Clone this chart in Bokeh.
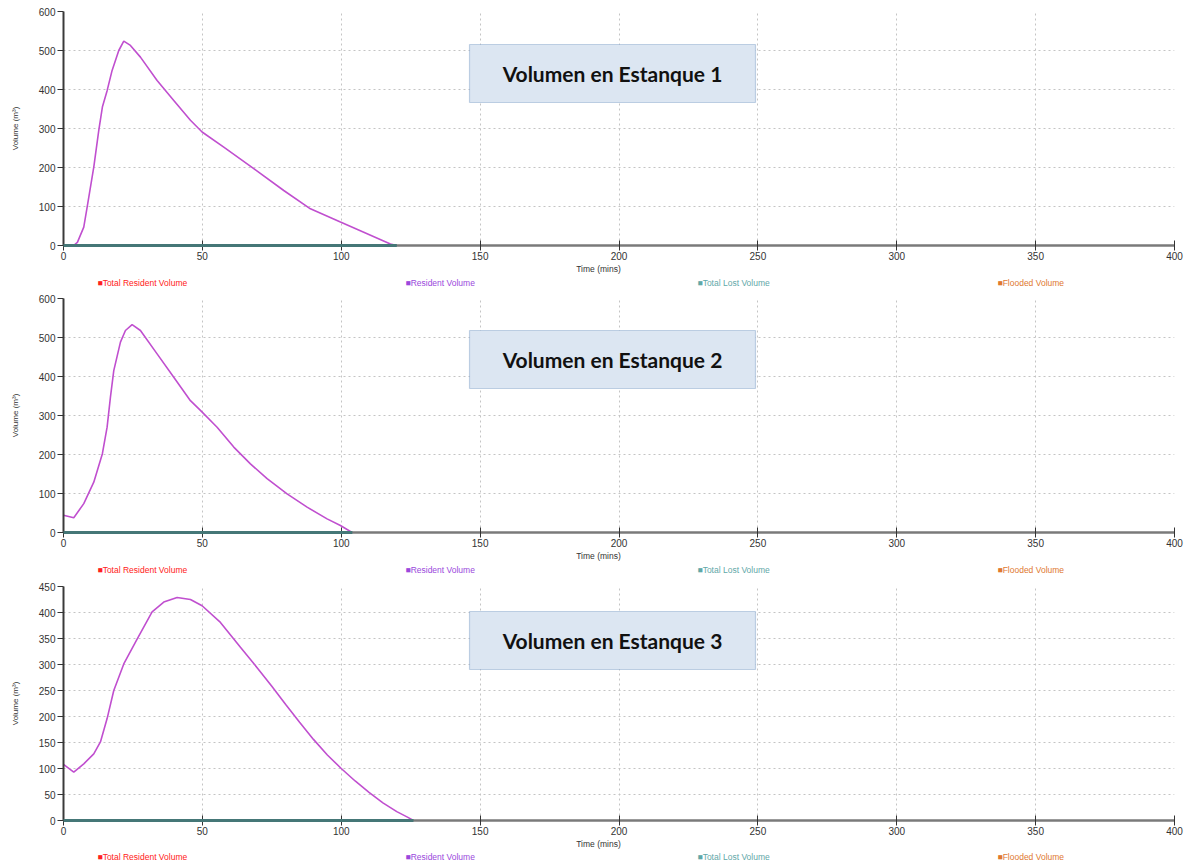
from bokeh.plotting import figure
from bokeh.models import Range1d, FixedTicker, Label, BoxAnnotation
from bokeh.layouts import column
from bokeh.embed import file_html
from bokeh.resources import INLINE

# ---------------- data ----------------
time1 = [3.6, 5, 7.3, 8.5, 10.9, 12.7, 14, 15.7, 17.5, 19.9, 21.7, 24.1, 27.7, 33.7,
         39.7, 45.7, 49.9, 57.7, 68.5, 79.3, 88.9, 99.7, 108.1, 117.7, 120]
vol1 = [0, 8, 47, 98, 201, 295, 355, 397, 449, 500, 524, 513, 483, 423,
        372, 321, 291, 252, 197, 141, 94, 60, 34, 4, 0]

time2 = [0, 3.7, 7.3, 10.9, 14, 15.7, 16.9, 18.1, 20.5, 22.3, 24.7, 27.7, 33.7, 39.7,
         45.7, 49.3, 55.3, 61.3, 67.3, 73.3, 80.5, 87.7, 94.9, 99.7, 103.9]
vol2 = [44, 38, 74, 129, 202, 270, 347, 415, 488, 518, 533, 518, 458, 398,
        338, 313, 270, 219, 176, 138, 99, 65, 35, 18, 0]

time3 = [0, 3.7, 7.3, 10.9, 13.3, 15.7, 18.1, 21.7, 26.5, 31.9, 36.1, 40.9, 45.7, 49.9,
         56.5, 63.7, 70, 75, 80, 85, 90, 95, 100, 105, 110, 115, 120, 124, 126]
vol3 = [108, 93, 109, 128, 151, 196, 250, 301, 349, 401, 420, 429, 425, 413,
        381, 333, 292, 258, 223, 189, 156, 126, 100, 76, 54, 34, 17, 6, 0]

# zero-valued series (Total Lost / Flooded / Total Resident) over the run length
zero_time1 = [0, 120]
zero_time2 = [0, 104]
zero_time3 = [0, 126]
zero_vol = [0, 0]

x_ticks = [0, 50, 100, 150, 200, 250, 300, 350, 400]
y_ticks_600 = [0, 100, 200, 300, 400, 500, 600]
y_ticks_450 = [0, 50, 100, 150, 200, 250, 300, 350, 400, 450]

titles = ["Volumen en Estanque 1", "Volumen en Estanque 2", "Volumen en Estanque 3"]
x_title = "Time (mins)"
y_title = "Volume (m³)"
legend_names = ["Total Resident Volume", "Resident Volume", "Total Lost Volume", "Flooded Volume"]
legend_colors = ["#ff2020", "#9a48dc", "#5fa8a8", "#e07830"]

FONT = "Liberation Sans"
W = 1192


def make_chart(t, v, zt, ymax, yticks, title, top_b, height, box_bottom):
    p = figure(width=W, height=height, output_backend="svg", toolbar_location=None,
               x_range=Range1d(0, 400), y_range=Range1d(0, ymax),
               min_border_left=63, min_border_right=18,
               min_border_top=top_b, min_border_bottom=18)
    p.outline_line_color = None
    p.background_fill_color = "white"
    p.border_fill_color = "white"

    for g in (p.xgrid[0], p.ygrid[0]):
        g.grid_line_color = "#c4c4c4"
        g.grid_line_dash = "2 3"
        g.grid_line_width = 1

    xa = p.xaxis[0]
    xa.ticker = FixedTicker(ticks=x_ticks)
    xa.axis_line_color = "#7a7a7a"
    xa.axis_line_width = 2.5
    xa.major_tick_line_color = "#333333"
    xa.major_tick_in = 5
    xa.major_tick_out = 5
    xa.minor_tick_line_color = None
    xa.major_label_text_font = FONT
    xa.major_label_text_font_size = "10px"
    xa.major_label_text_color = "#333333"
    xa.major_label_standoff = 1

    ya = p.yaxis[0]
    ya.ticker = FixedTicker(ticks=yticks)
    ya.axis_line_color = "#3a3a3a"
    ya.axis_line_width = 2
    ya.major_tick_line_color = "#333333"
    ya.major_tick_in = 0
    ya.major_tick_out = 6
    ya.minor_tick_line_color = None
    ya.major_label_text_font = FONT
    ya.major_label_text_font_size = "10px"
    ya.major_label_text_color = "#333333"
    ya.major_label_standoff = 2
    ya.axis_label = y_title
    ya.axis_label_text_font = FONT
    ya.axis_label_text_font_size = "8px"
    ya.axis_label_text_font_style = "normal"
    ya.axis_label_text_color = "#333333"
    ya.axis_label_standoff = 16

    # zero series (dark teal baseline) and the resident volume curve
    p.line(zt, zero_vol, line_color="#457777", line_width=3, level="overlay")
    p.line(t, v, line_color="#c04fcf", line_width=1.6)

    # title box
    p.add_layout(BoxAnnotation(left=406, right=692, bottom=box_bottom, top=box_bottom + 58,
                               left_units="screen", right_units="screen",
                               bottom_units="screen", top_units="screen",
                               fill_color="#dce6f2", fill_alpha=1.0,
                               line_color="#4a78b0", line_width=1.2, level="annotation"))
    p.add_layout(Label(x=549, y=box_bottom + 29, x_units="screen", y_units="screen", text=title,
                       text_font="Lato", text_font_style="bold", text_font_size="21px",
                       text_color="#111111", text_align="center", text_baseline="middle"))
    return p


def make_strip(height, time_y, legend_y):
    # frame of this strip is aligned with the chart frames above (left edge at x=63)
    s = figure(width=W, height=height, output_backend="svg", toolbar_location=None,
               x_range=Range1d(0, 1), y_range=Range1d(0, 1),
               x_axis_location=None, y_axis_location=None, min_border=0)
    s.grid.visible = False
    s.outline_line_color = None
    s.add_layout(Label(x=535, y=time_y, x_units="screen", y_units="screen", text=x_title,
                       text_font=FONT, text_font_size="8.5px", text_color="#333333",
                       text_align="center", text_baseline="middle"))
    xs = [34, 342, 634, 934]
    for name, col, xx in zip(legend_names, legend_colors, xs):
        s.add_layout(Label(x=xx, y=legend_y, x_units="screen", y_units="screen",
                           text="■" + name, text_font=FONT, text_font_size="8.5px",
                           text_color=col, text_align="left", text_baseline="middle"))
    return s


p1 = make_chart(time1, vol1, zero_time1, 600, y_ticks_600, titles[0], 11, 263, 143)
s1 = make_strip(27, 22, 8)
p2 = make_chart(time2, vol2, zero_time2, 600, y_ticks_600, titles[1], 8, 260, 144)
s2 = make_strip(27, 22, 8)
p3 = make_chart(time3, vol3, zero_time3, 450, y_ticks_450, titles[2], 9, 261, 151)
s3 = make_strip(28, 23, 10)

layout = column(p1, s1, p2, s2, p3, s3, spacing=0)
open("out.html", "w").write(file_html(layout, INLINE))
